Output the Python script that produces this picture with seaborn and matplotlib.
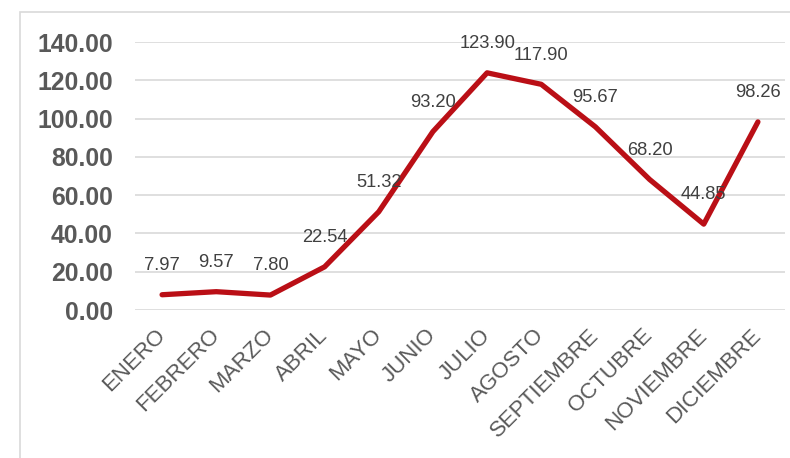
import matplotlib
matplotlib.use("Agg")
import matplotlib.pyplot as plt
import seaborn as sns
import pandas as pd
from matplotlib.patches import Rectangle

meses = ["ENERO", "FEBRERO", "MARZO", "ABRIL", "MAYO", "JUNIO", "JULIO",
         "AGOSTO", "SEPTIEMBRE", "OCTUBRE", "NOVIEMBRE", "DICIEMBRE"]
valores = [7.97, 9.57, 7.80, 22.54, 51.32, 93.20, 123.90, 117.90, 95.67, 68.20, 44.85, 98.26]
y_ticks = [0, 20, 40, 60, 80, 100, 120, 140]

sns.set_style("white")
plt.rcParams['font.family'] = ['Liberation Sans', 'DejaVu Sans']

W, H = 790, 458
fig = plt.figure(figsize=(W / 100, H / 100), dpi=100)
ax = fig.add_axes([135 / W, 1 - 310 / H, (785 - 135) / W, (310 - 42) / H])

# outer frame (chart area border)
fig.patches.append(Rectangle((20 / W, -0.1), 1.2, 1 - 12 / H + 0.1,
                             transform=fig.transFigure, fill=False,
                             edgecolor="#D9D9D9", linewidth=1.2, zorder=0))

df = pd.DataFrame({"mes": meses, "valor": valores, "x": range(len(meses))})
sns.lineplot(data=df, x="x", y="valor", ax=ax, color="#BA0F16", linewidth=3.8,
             solid_capstyle="round", solid_joinstyle="round", zorder=3)

for xi, v in zip(df["x"], valores):
    ax.annotate(f"{v:.2f}", (xi, v), xytext=(0, 21), textcoords="offset points",
                ha="center", va="center", fontsize=13.2, color="#404040", zorder=4)

ax.set_xlim(-0.5, len(meses) - 0.5)
ax.set_ylim(0, 140)
ax.set_yticks(y_ticks)
ax.set_yticklabels([f"{t:.2f}" for t in y_ticks], fontsize=17.8, fontweight="bold",
                   color="#595959")
ax.set_xticks(range(len(meses)))
ax.set_xticklabels(meses, rotation=45, ha="right", va="center",
                   rotation_mode="anchor", fontsize=16, color="#595959")
ax.tick_params(axis="x", length=0, pad=16)
ax.tick_params(axis="y", length=0, pad=16)
ax.grid(axis="y", color="#D9D9D9", linewidth=1.2)
ax.set_axisbelow(True)
for s in ax.spines.values():
    s.set_visible(False)
ax.set_xlabel("")
ax.set_ylabel("")

fig.savefig("out.png", dpi=100)
